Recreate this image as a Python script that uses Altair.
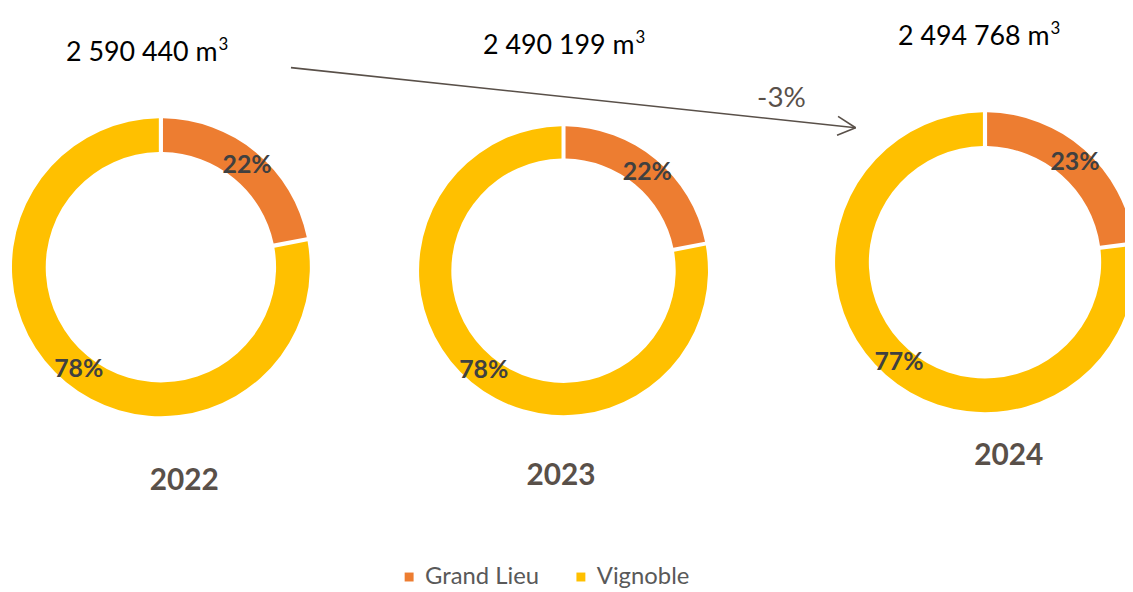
import altair as alt
import pandas as pd

# ---------------- data ----------------
categories = ["Grand Lieu", "Vignoble"]
years = ["2022", "2023", "2024"]
grand_lieu_pct = [22, 22, 23]
vignoble_pct = [78, 78, 77]
totals = ["2 590 440", "2 490 199", "2 494 768"]
unit_main = "m"
unit_exp = "3"
change_label = "-3%"
colors = ["#ED7D31", "#FFC000"]

rows = []
for i, yr in enumerate(years):
    for k, (cat, val) in enumerate(zip(categories, [grand_lieu_pct[i], vignoble_pct[i]])):
        rows.append({"year": yr, "category": cat, "value": val,
                     "label": f"{val}%", "rank": k})
df = pd.DataFrame(rows)

# ---------------- layout (pixels in chart space) ----------------
W, H = 1125, 584
centers = [(154, 259), (559.5, 262.5), (984, 254)]
outer_r = [150, 145.5, 151]
inner_r = [116, 113, 117]
year_pos = [(177.5, 474), (557, 469), (1008, 449)]
total_end = [(211, 51), (631, 44), (1049, 35)]   # right edge of "m", baseline
FONT = "Lato"
BROWN = "#595049"

color_scale = alt.Scale(domain=categories, range=colors)
legend = alt.Legend(orient="none", legendX=392, legendY=559, direction="horizontal",
                    title=None, symbolType="square", symbolSize=81, symbolStrokeWidth=0,
                    labelFont=FONT, labelFontSize=24, labelColor="#595959",
                    labelOffset=4, columnPadding=30, padding=0)

one = pd.DataFrame({"k": [0]})
layers = []
for i, yr in enumerate(years):
    cx, cy = centers[i]
    sub = df[df["year"] == yr]
    base = alt.Chart(sub)
    arc = base.mark_arc(outerRadius=outer_r[i], innerRadius=inner_r[i], padAngle=0.022).encode(
        theta=alt.Theta("value:Q", stack=True, scale=alt.Scale(domain=[0, 100])),
        color=alt.Color("category:N", scale=color_scale, legend=legend),
        order=alt.Order("rank:Q"),
        x=alt.value(cx), y=alt.value(cy),
    )
    txt = base.mark_text(radius=(outer_r[i] + inner_r[i]) / 2, font=FONT, fontSize=25,
                         fontWeight="bold", color="#404040").encode(
        theta=alt.Theta("value:Q", stack=True, scale=alt.Scale(domain=[0, 100])),
        order=alt.Order("rank:Q"),
        detail="category:N",
        text="label:N",
        x=alt.value(cx + 2), y=alt.value(cy),
    )
    ylab = alt.Chart(pd.DataFrame({"t": [yr]})).mark_text(
        font=FONT, fontSize=30, fontWeight="bold", color=BROWN, baseline="middle", align="center"
    ).encode(text="t:N", x=alt.value(year_pos[i][0]), y=alt.value(year_pos[i][1]))
    ex, ey = total_end[i]
    tot = alt.Chart(pd.DataFrame({"t": [f"{totals[i]} {unit_main}"]})).mark_text(
        font=FONT, fontSize=27, color="#000000", baseline="alphabetic", align="right"
    ).encode(text="t:N", x=alt.value(ex), y=alt.value(ey))
    sup = alt.Chart(pd.DataFrame({"t": [unit_exp]})).mark_text(
        font=FONT, fontSize=17, color="#000000", baseline="alphabetic", align="left"
    ).encode(text="t:N", x=alt.value(ex + 1), y=alt.value(ey - 11))
    layers += [arc, txt, ylab, tot, sup]

# arrow
tip = (853.7, 118.5)
arrow_line = alt.Chart(one).mark_rule(color=BROWN, strokeWidth=1.6).encode(
    x=alt.value(285), y=alt.value(58), x2=alt.value(tip[0]), y2=alt.value(tip[1]))
arm1 = alt.Chart(one).mark_rule(color=BROWN, strokeWidth=1.6).encode(
    x=alt.value(836), y=alt.value(107), x2=alt.value(tip[0]), y2=alt.value(tip[1]))
arm2 = alt.Chart(one).mark_rule(color=BROWN, strokeWidth=1.6).encode(
    x=alt.value(835), y=alt.value(126), x2=alt.value(tip[0]), y2=alt.value(tip[1]))
chg = alt.Chart(pd.DataFrame({"t": [change_label]})).mark_text(
    font=FONT, fontSize=28, color=BROWN, baseline="middle", align="center"
).encode(text="t:N", x=alt.value(779), y=alt.value(90))

chart = alt.layer(*layers, arrow_line, arm1, arm2, chg).resolve_scale(theta="independent").properties(
    width=W, height=H, autosize="none", padding=0
).configure_view(stroke=None)

chart.save("out.html", embed_options={"renderer": "svg", "actions": False})
